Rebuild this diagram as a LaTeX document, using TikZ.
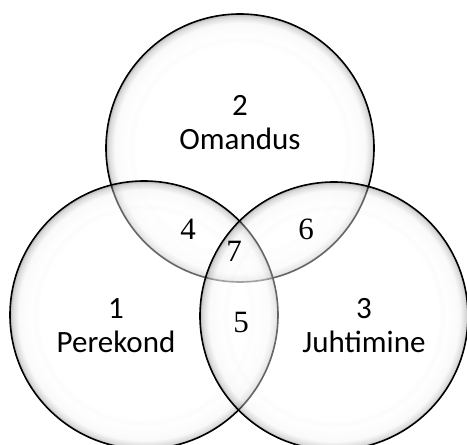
\documentclass[tikz,border=0pt]{standalone}
\usepackage{fontspec}
\setmainfont{Carlito}
\newfontfamily\numfont{Liberation Serif}

% soft glass-like rim: white centre, faint inner ring, grey towards the edge
\pgfdeclareradialshading{glassdisc}{\pgfpoint{0bp}{0bp}}{%
  color(0bp)=(white);
  color(19.5bp)=(white);
  color(20.2bp)=(black!3);
  color(21bp)=(white);
  color(23.4bp)=(black!5);
  color(24.5bp)=(black!35);
  color(25bp)=(black!70);
  color(50bp)=(black!70)}

\tikzset{
  x=1pt, y=1pt,
  setcircle/.style={circle, minimum size=268pt, inner sep=0pt,
    shading=glassdisc, fill opacity=0.4, draw=black, draw opacity=1,
    line width=1.6pt},
  setlabel/.style={align=center, font=\fontsize{31}{34}\selectfont},
  zonelabel/.style={font=\numfont\fontsize{31}{32}\selectfont}
}

\begin{document}
\begin{tikzpicture}
  \useasboundingbox (0,0) rectangle (467,445);
  \fill[white] (0,0) rectangle (467,445);
  \begin{scope}
    \clip (0,0) rectangle (467,445);
    % the three sets
    \node[setcircle] (omandus)   at (240,297) {};
    \node[setcircle] (perekond)  at (144,130) {};
    \node[setcircle] (juhtimine) at (334,129) {};
  \end{scope}

  % set names
  \node[setlabel] (lab2) at (240,322) {2\\Omandus};
  \node[setlabel] (lab1) at (116,119) {1\\Perekond};
  \node[setlabel] (lab3) at (364,119) {3\\Juhtimine};

  % overlap zones
  \node[zonelabel] (z4) at (188,216) {4};
  \node[zonelabel] (z6) at (306,216) {6};
  \node[zonelabel] (z7) at (234,194) {7};
  \node[zonelabel] (z5) at (241,122) {5};
\end{tikzpicture}
\end{document}
